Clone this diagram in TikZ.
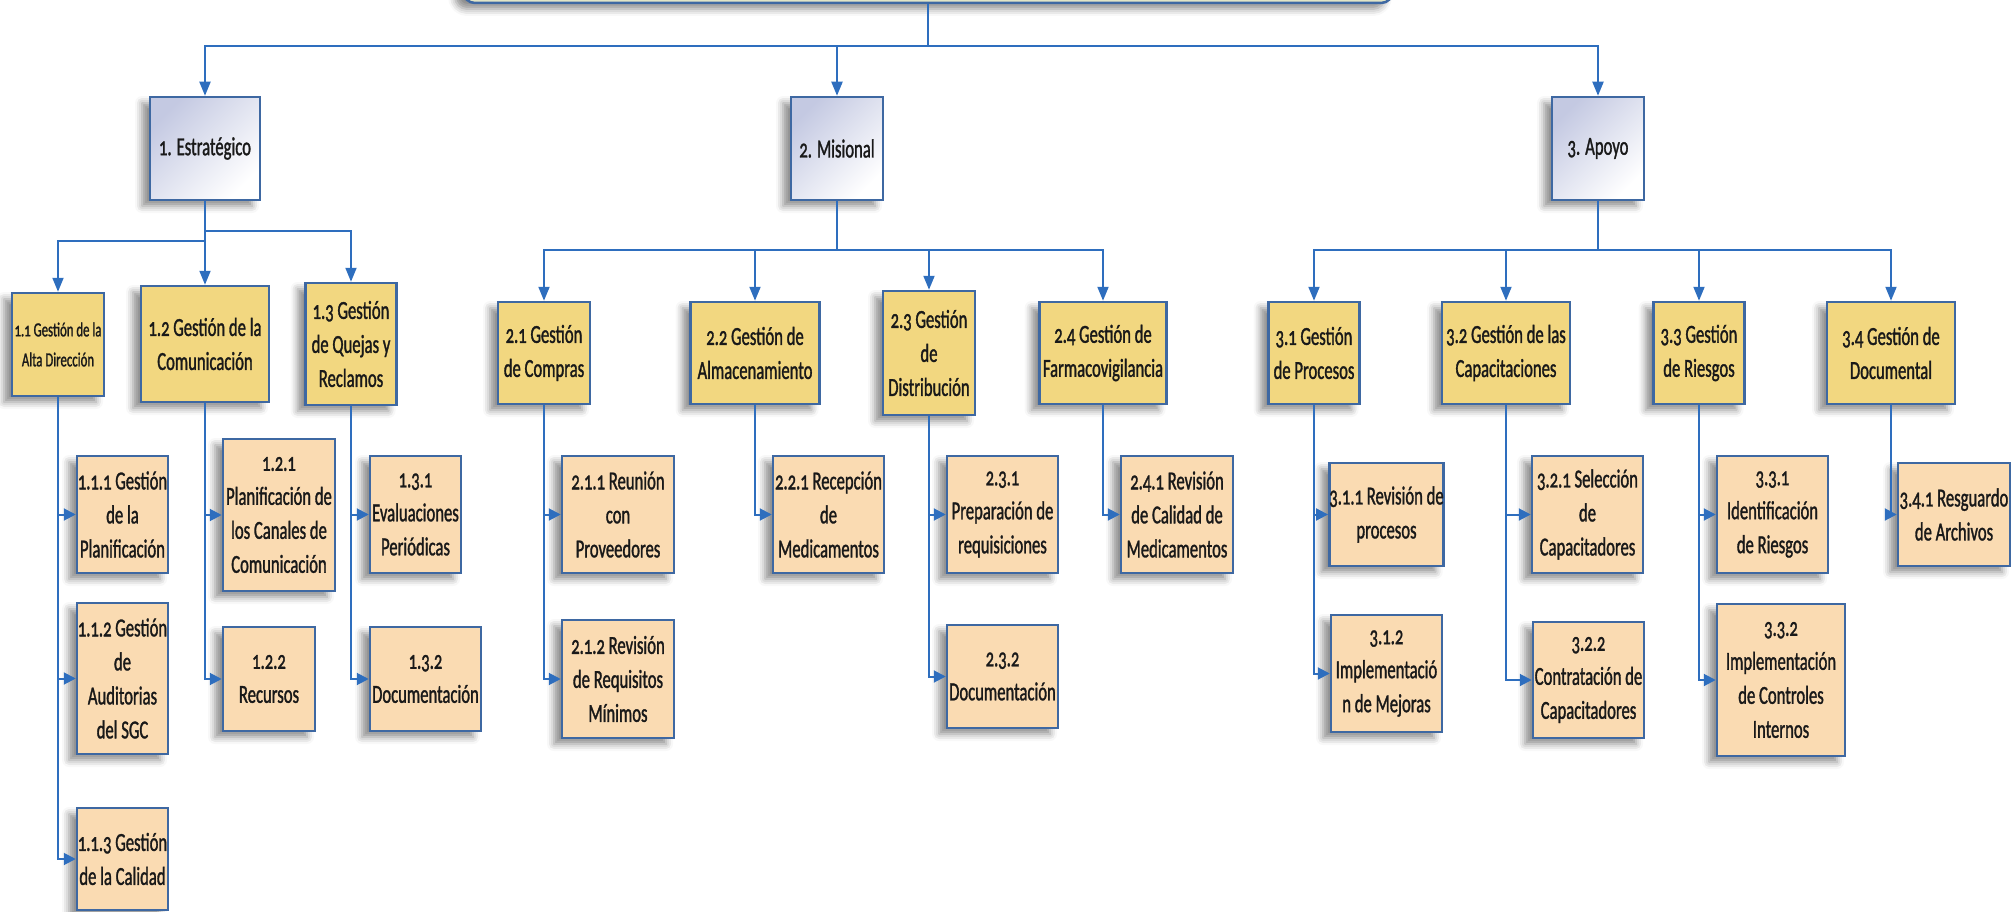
\documentclass[tikz,border=0pt]{standalone}
\usepackage{fontspec}
\setmainfont{Carlito}[FakeStretch=0.64,FakeBold=1.2,Numbers=OldStyle]
\usetikzlibrary{arrows.meta,shadows.blur}

\begin{document}
\begin{tikzpicture}[x=1pt,y=-1pt,
    font=\fontsize{26}{34}\selectfont,
    box/.style={draw=boxblue,line width=2.5pt,inner sep=0pt,align=center,
        text=black!90,
        blur shadow={shadow xshift=-8pt,shadow yshift=-6pt,
            shadow opacity=45,shadow blur radius=7pt}},
    nivel/.style={box,top color=lila,bottom color=white,shading angle=45,
        minimum height=103pt},
    proceso/.style={box,fill=amarillo,minimum height=102pt},
    tarea/.style={box,fill=durazno,minimum width=111pt,minimum height=117pt},
    conn/.style={draw=lineblue,line width=2pt,
        -{Triangle[length=14pt,width=11pt]}}]
    \definecolor{boxblue}{RGB}{62,104,162}
    \definecolor{lineblue}{RGB}{46,110,190}
    \definecolor{lila}{RGB}{196,201,226}
    \definecolor{amarillo}{RGB}{242,215,128}
    \definecolor{durazno}{RGB}{250,219,178}
    \definecolor{topfill}{RGB}{226,229,198}

    \clip (0,0) rectangle (2016,912);
    \useasboundingbox (0,0) rectangle (2016,912);

    % root box, only its lower edge shows
    \node[box,fill=topfill,rounded corners=12pt,minimum width=930pt,
        minimum height=60pt] (raiz) at (928,-27) {};

    % macroprocesses
    \node[nivel,minimum width=110pt] (est) at (205,148.5) {1. Estratégico};
    \node[nivel,minimum width=92pt] (mis) at (837,148.5) {2. Misional};
    \node[nivel,minimum width=92pt] (apo) at (1598,148.5) {3. Apoyo};

    % processes
    \node[proceso,minimum width=92pt,minimum height=103pt,
        font=\fontsize{20}{30}\selectfont] (g11) at (58,344.5)
        {1.1 Gestión de la\\Alta Dirección};
    \node[proceso,minimum width=128pt,minimum height=116pt] (g12) at (205,344)
        {1.2 Gestión de la\\Comunicación};
    \node[proceso,minimum width=91pt,minimum height=122pt] (g13) at (351,344)
        {1.3 Gestión\\de Quejas y\\Reclamos};
    \node[proceso,minimum width=92pt] (g21) at (544,353) {2.1 Gestión\\de Compras};
    \node[proceso,minimum width=129pt] (g22) at (755,353)
        {2.2 Gestión de\\Almacenamiento};
    \node[proceso,minimum width=92pt,minimum height=124pt] (g23) at (929,353)
        {2.3 Gestión\\de\\Distribución};
    \node[proceso,minimum width=127pt] (g24) at (1103,353)
        {2.4 Gestión de\\Farmacovigilancia};
    \node[proceso,minimum width=91pt] (g31) at (1314,353) {3.1 Gestión\\de Procesos};
    \node[proceso,minimum width=128pt] (g32) at (1506,353)
        {3.2 Gestión de las\\Capacitaciones};
    \node[proceso,minimum width=91pt] (g33) at (1699,353) {3.3 Gestión\\de Riesgos};
    \node[proceso,minimum width=128pt] (g34) at (1891,353)
        {3.4 Gestión de\\Documental};

    % activities
    \node[tarea,minimum width=91pt] (a111) at (122.5,514.5)
        {1.1.1 Gestión\\de la\\Planificación};
    \node[tarea,minimum width=91pt,minimum height=151pt] (a112) at (122.5,678.5)
        {1.1.2 Gestión\\de\\Auditorias\\del SGC};
    \node[tarea,minimum width=91pt,minimum height=102pt] (a113) at (122.5,859)
        {1.1.3 Gestión\\de la Calidad};
    \node[tarea,minimum width=112pt,minimum height=152pt] (a121) at (279,515)
        {1.2.1\\Planificación de\\los Canales de\\Comunicación};
    \node[tarea,minimum width=92pt,minimum height=104pt] (a122) at (269,679)
        {1.2.2\\Recursos};
    \node[tarea,minimum width=91pt] (a131) at (415.5,514.5)
        {1.3.1\\Evaluaciones\\Periódicas};
    \node[tarea,minimum height=104pt] (a132) at (425.5,679)
        {1.3.2\\Documentación};
    \node[tarea,minimum width=112pt] (a211) at (618,514.5)
        {2.1.1 Reunión\\con\\Proveedores};
    \node[tarea,minimum width=112pt,minimum height=118pt] (a212) at (618,679)
        {2.1.2 Revisión\\de Requisitos\\Mínimos};
    \node[tarea] (a221) at (828.5,514.5) {2.2.1 Recepción\\de\\Medicamentos};
    \node[tarea] (a231) at (1002.5,514.5)
        {2.3.1\\Preparación de\\requisiciones};
    \node[tarea,minimum height=103pt] (a232) at (1002.5,676.5)
        {2.3.2\\Documentación};
    \node[tarea,minimum width=112pt] (a241) at (1177,514.5)
        {2.4.1 Revisión\\de Calidad de\\Medicamentos};
    \node[tarea,minimum height=103pt] (a311) at (1386.5,514.5)
        {3.1.1 Revisión de\\procesos};
    \node[tarea] (a312) at (1386.5,673.5) {3.1.2\\Implementació\\n de Mejoras};
    \node[tarea] (a321) at (1587.5,514.5) {3.2.1 Selección\\de\\Capacitadores};
    \node[tarea,minimum height=116pt] (a322) at (1588.5,680)
        {3.2.2\\Contratación de\\Capacitadores};
    \node[tarea] (a331) at (1772.5,514.5) {3.3.1\\Identificación\\de Riesgos};
    \node[tarea,minimum width=128pt,minimum height=152pt] (a332) at (1781,680)
        {3.3.2\\Implementación\\de Controles\\Internos};
    \node[tarea,minimum width=112pt,minimum height=103pt] (a341) at (1954,514.5)
        {3.4.1 Resguardo\\de Archivos};

    % root to macroprocesses
    \foreach \m in {est,mis,apo}
        \draw[conn] (raiz.south) -- ++(0,42) -| (\m.north);

    % macroprocesses to processes
    \draw[conn] (est.south) -- ++(0,40) -| (g11.north);
    \draw[conn] (est.south) -- (g12.north);
    \draw[conn] (est.south) -- ++(0,30) -| (g13.north);
    \foreach \g in {g21,g22,g23,g24}
        \draw[conn] (mis.south) -- ++(0,49) -| (\g.north);
    \foreach \g in {g31,g32,g33,g34}
        \draw[conn] (apo.south) -- ++(0,49) -| (\g.north);

    % processes to activities
    \foreach \p/\a in {g11/a111,g11/a112,g11/a113,g12/a121,g12/a122,
            g13/a131,g13/a132,g21/a211,g21/a212,g22/a221,g23/a231,g23/a232,
            g24/a241,g31/a311,g31/a312,g32/a321,g32/a322,g33/a331,g33/a332,
            g34/a341}
        \draw[conn,-{Triangle[length=12pt,width=12pt]}] (\p.south) |- (\a.west);
\end{tikzpicture}
\end{document}
